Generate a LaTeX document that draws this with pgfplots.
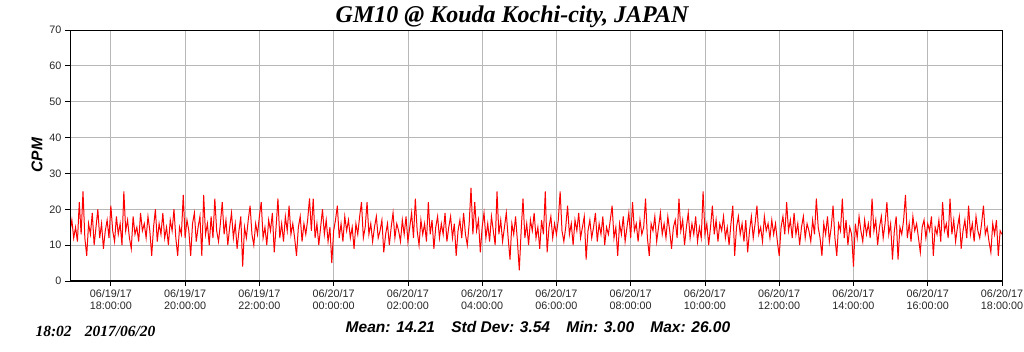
\documentclass[border=0pt]{standalone}
\usepackage{pgfplots}
\pgfplotsset{compat=1.18}
\usepackage{fontspec}
\setmainfont{Liberation Sans}
\newfontfamily\timesfont{Liberation Serif}
\begin{document}
\begin{tikzpicture}
\useasboundingbox (0pt,0pt) rectangle (1024pt,351pt);
\begin{axis}[
  at={(70pt,70pt)}, anchor=south west,
  width=932pt, height=251pt, scale only axis,
  xmin=0, xmax=502, ymin=0, ymax=70,
  ytick={0,10,...,70},
  xtick={22,62,...,502},
  xtick pos=bottom, ytick pos=left,
  xticklabels={{06/19/17\\18:00:00},{06/19/17\\20:00:00},{06/19/17\\22:00:00},{06/20/17\\00:00:00},{06/20/17\\02:00:00},{06/20/17\\04:00:00},{06/20/17\\06:00:00},{06/20/17\\08:00:00},{06/20/17\\10:00:00},{06/20/17\\12:00:00},{06/20/17\\14:00:00},{06/20/17\\16:00:00},{06/20/17\\18:00:00}},
  xticklabel style={align=center, font=\fontsize{10.8}{12}\selectfont, text=black!85},
  yticklabel style={font=\fontsize{10.8}{12}\selectfont, text=black!85},
  /pgf/number format/assume math mode=true,
  grid=major, grid style={black!28, line width=0.8pt},
  axis line style={black, line width=1pt},
  tick align=outside, major tick length=5pt,
  tick style={black, line width=0.8pt},
]
\addplot[red, line width=1pt] coordinates {
(0,14)(1,17)(2,12)(3,15)(4,11)(5,22)(6,13)(7,25)(8,12)(9,7)(10,16)(11,13)(12,19)(13,10)(14,15)(15,20)(16,12)(17,16)(18,9)(19,14)
(20,17)(21,12)(22,21)(23,14)(24,11)(25,18)(26,13)(27,16)(28,10)(29,25)(30,14)(31,17)(32,12)(33,9)(34,18)(35,13)(36,15)(37,11)(38,19)(39,14)
(40,16)(41,12)(42,18)(43,14)(44,7)(45,15)(46,20)(47,11)(48,16)(49,13)(50,19)(51,12)(52,15)(53,10)(54,17)(55,14)(56,20)(57,12)(58,7)(59,15)
(60,13)(61,24)(62,12)(63,17)(64,14)(65,7)(66,16)(67,19)(68,11)(69,15)(70,18)(71,7)(72,24)(73,13)(74,16)(75,10)(76,18)(77,12)(78,23)(79,14)
(80,11)(81,16)(82,22)(83,13)(84,17)(85,10)(86,15)(87,19)(88,12)(89,16)(90,9)(91,14)(92,18)(93,4)(94,15)(95,12)(96,17)(97,21)(98,13)(99,10)
(100,16)(101,13)(102,18)(103,22)(104,12)(105,15)(106,10)(107,17)(108,14)(109,19)(110,8)(111,15)(112,23)(113,12)(114,16)(115,11)(116,18)(117,14)(118,21)(119,13)
(120,16)(121,12)(122,7)(123,15)(124,18)(125,11)(126,16)(127,13)(128,17)(129,23)(130,14)(131,23)(132,12)(133,16)(134,10)(135,15)(136,20)(137,13)(138,17)(139,11)
(140,15)(141,5)(142,14)(143,17)(144,21)(145,12)(146,16)(147,11)(148,18)(149,14)(150,17)(151,12)(152,15)(153,9)(154,16)(155,13)(156,18)(157,22)(158,12)(159,15)
(160,22)(161,13)(162,16)(163,11)(164,15)(165,18)(166,12)(167,14)(168,17)(169,8)(170,13)(171,16)(172,10)(173,15)(174,19)(175,12)(176,16)(177,14)(178,11)(179,17)
(180,13)(181,18)(182,11)(183,15)(184,19)(185,12)(186,23)(187,14)(188,10)(189,17)(190,13)(191,16)(192,11)(193,22)(194,13)(195,17)(196,9)(197,15)(198,18)(199,12)
(200,16)(201,13)(202,19)(203,11)(204,15)(205,18)(206,12)(207,16)(208,7)(209,14)(210,17)(211,12)(212,19)(213,13)(214,10)(215,16)(216,26)(217,13)(218,22)(219,14)
(220,17)(221,8)(222,15)(223,19)(224,12)(225,16)(226,11)(227,18)(228,14)(229,10)(230,25)(231,13)(232,17)(233,11)(234,15)(235,19)(236,12)(237,6)(238,16)(239,13)
(240,18)(241,11)(242,3)(243,14)(244,23)(245,12)(246,16)(247,10)(248,17)(249,14)(250,19)(251,12)(252,15)(253,9)(254,17)(255,13)(256,25)(257,8)(258,15)(259,18)
(260,12)(261,16)(262,13)(263,17)(264,25)(265,14)(266,11)(267,15)(268,21)(269,13)(270,16)(271,10)(272,17)(273,14)(274,19)(275,12)(276,15)(277,18)(278,6)(279,14)
(280,17)(281,12)(282,15)(283,19)(284,11)(285,16)(286,13)(287,18)(288,10)(289,15)(290,13)(291,17)(292,21)(293,12)(294,15)(295,7)(296,16)(297,13)(298,18)(299,11)
(300,15)(301,19)(302,12)(303,22)(304,14)(305,16)(306,11)(307,17)(308,13)(309,15)(310,23)(311,12)(312,7)(313,16)(314,14)(315,18)(316,11)(317,15)(318,19)(319,13)
(320,16)(321,12)(322,18)(323,14)(324,9)(325,15)(326,17)(327,12)(328,23)(329,14)(330,17)(331,10)(332,15)(333,19)(334,12)(335,16)(336,13)(337,18)(338,11)(339,15)
(340,12)(341,25)(342,13)(343,16)(344,10)(345,15)(346,21)(347,13)(348,17)(349,11)(350,16)(351,14)(352,18)(353,12)(354,15)(355,10)(356,16)(357,21)(358,7)(359,15)
(360,18)(361,13)(362,16)(363,11)(364,17)(365,8)(366,14)(367,18)(368,12)(369,16)(370,21)(371,13)(372,15)(373,11)(374,18)(375,14)(376,16)(377,12)(378,17)(379,13)
(380,16)(381,11)(382,7)(383,15)(384,18)(385,13)(386,22)(387,14)(388,17)(389,12)(390,19)(391,13)(392,16)(393,10)(394,15)(395,18)(396,12)(397,16)(398,14)(399,11)
(400,17)(401,13)(402,23)(403,15)(404,12)(405,7)(406,16)(407,13)(408,18)(409,11)(410,15)(411,21)(412,12)(413,7)(414,16)(415,14)(416,23)(417,12)(418,17)(419,10)
(420,15)(421,13)(422,4)(423,16)(424,12)(425,18)(426,14)(427,11)(428,17)(429,13)(430,16)(431,12)(432,23)(433,14)(434,17)(435,10)(436,15)(437,18)(438,12)(439,16)
(440,22)(441,13)(442,16)(443,6)(444,14)(445,18)(446,6)(447,15)(448,13)(449,17)(450,24)(451,12)(452,16)(453,11)(454,18)(455,14)(456,16)(457,12)(458,8)(459,15)
(460,17)(461,12)(462,16)(463,14)(464,18)(465,7)(466,15)(467,13)(468,17)(469,11)(470,22)(471,14)(472,16)(473,12)(474,23)(475,13)(476,17)(477,11)(478,15)(479,18)
(480,9)(481,14)(482,17)(483,12)(484,21)(485,13)(486,16)(487,11)(488,18)(489,14)(490,12)(491,16)(492,21)(493,13)(494,15)(495,11)(496,8)(497,16)(498,13)(499,17)
(500,7)(501,14)(502,13)
};
\draw[black, line width=2.6pt] (rel axis cs:0,0) -- (rel axis cs:0,1);
\draw[black, line width=2.6pt] (rel axis cs:0,0) -- (rel axis cs:1,0);
\end{axis}
\node[font=\timesfont\bfseries\itshape\fontsize{24}{28}\selectfont] at (512pt,334pt) {GM10 @ Kouda Kochi-city, JAPAN};
\node[rotate=90, font=\bfseries\itshape\fontsize{15.5}{18}\selectfont] at (37pt,196pt) {CPM};
\node[font=\bfseries\itshape\fontsize{15.5}{18}\selectfont] at (538pt,24pt) {Mean: 14.21\hspace{1.05em}Std Dev: 3.54\hspace{1.05em}Min: 3.00\hspace{1.05em}Max: 26.00};
\node[anchor=west, font=\timesfont\bfseries\itshape\fontsize{15.5}{18}\selectfont] at (32pt,20pt) {18:02\hspace{0.85em}2017/06/20};
\end{tikzpicture}
\end{document}
